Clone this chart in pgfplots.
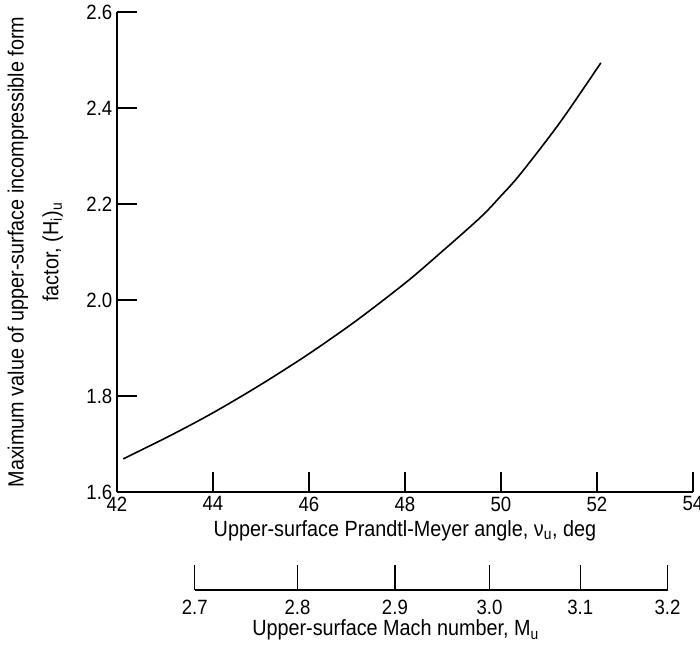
\documentclass[border=0pt]{standalone}
\usepackage{fontspec}
\setmainfont{Liberation Sans}[FakeStretch=0.9]
\usepackage{pgfplots}
\pgfplotsset{compat=1.18}
\newcommand\lab{\fontsize{16.5pt}{22pt}\selectfont}
\newcommand\tlab{\fontsize{15.5pt}{18pt}\selectfont}
\pgfplotstableread{
x y
42.13 1.669
43.10 1.717
44.00 1.765
45.00 1.824
46.00 1.888
47.00 1.958
48.00 2.035
48.60 2.086
49.56 2.171
50.00 2.217
50.40 2.262
51.23 2.370
52.08 2.494
}\curve
\begin{document}
\begin{tikzpicture}
\useasboundingbox (-87.75pt,-117pt) rectangle (437.25pt,369pt);
\begin{axis}[
  scale only axis, width=432pt, height=360pt,
  at={(0pt,0pt)}, anchor=south west,
  xmin=42, xmax=54, ymin=1.6, ymax=2.6,
  axis lines=left, axis line style={-, line width=0.9pt},
  tick align=inside, major tick length=15pt,
  tick style={line width=0.9pt, black},
  xtick={42,44,46,48,50,52,54},
  ytick={1.6,1.8,2.0,2.2,2.4,2.6},
  /pgf/number format/assume math mode=true,
  yticklabel style={/pgf/number format/.cd, fixed, fixed zerofill, precision=1},
  every tick label/.append style={font=\tlab},
  label style={font=\lab},
  xlabel={Upper-surface Prandtl-Meyer angle, ν\textsubscript{u}, deg},
  ylabel={Maximum value of upper-surface incompressible form\\[4pt]factor, (H\textsubscript{i})\textsubscript{u}},
  ylabel style={align=center, at={([xshift=-37pt]axis description cs:0,0.5)}, anchor=south},
]
\addplot[black, line width=1.2pt, smooth] table[x=x, y=y] {\curve};
\end{axis}
\begin{axis}[
  scale only axis, width=354.6pt, height=20pt,
  at={(58.32pt,-73.5pt)}, anchor=south west,
  xmin=43.62, xmax=53.47, ymin=0, ymax=1,
  axis x line=bottom, axis y line=none,
  axis line style={-, line width=0.9pt},
  tick align=inside, major tick length=18.75pt,
  tick style={line width=0.9pt, black},
  xtick={43.62,45.76,47.79,49.76,51.65,53.47},
  xticklabels={2.7,2.8,2.9,3.0,3.1,3.2},
  every tick label/.append style={font=\tlab},
  xticklabel style={yshift=-4pt},
  label style={font=\lab},
  xlabel={Upper-surface Mach number, M\textsubscript{u}},
  xlabel style={at={(ticklabel cs:0.425)}, yshift=3pt},
]
\end{axis}
\end{tikzpicture}
\end{document}
